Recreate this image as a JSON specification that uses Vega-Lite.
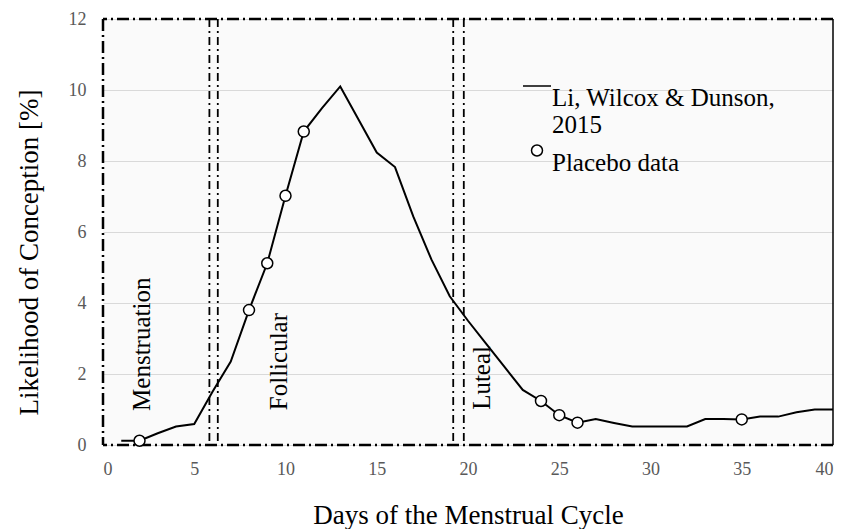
{
  "$schema": "https://vega.github.io/schema/vega-lite/v6.json",
  "width": 730,
  "height": 426,
  "autosize": {"type": "none"},
  "padding": {"left": 103, "top": 19, "right": 11, "bottom": 84},
  "background": "white",
  "config": {
    "view": {"fill": "#fafafa", "stroke": null},
    "font": "Liberation Serif",
    "axis": {"labelFont": "Liberation Serif", "titleFont": "Liberation Serif"},
    "text": {"font": "Liberation Serif"},
    "legend": {
      "orient": "none",
      "legendX": 419,
      "legendY": 52,
      "padding": 0,
      "title": null,
      "labelFont": "Liberation Serif",
      "labelFontSize": 25,
      "labelColor": "black",
      "labelLimit": 400,
      "labelOffset": 0,
      "labelBaseline": "top",
      "rowPadding": 0
    }
  },
  "datasets": {
    "curve": [
      {"day": 1, "value": 0.12}, {"day": 2, "value": 0.12}, {"day": 3, "value": 0.33},
      {"day": 4, "value": 0.52}, {"day": 5, "value": 0.59}, {"day": 6, "value": 1.5},
      {"day": 7, "value": 2.35}, {"day": 8, "value": 3.8}, {"day": 9, "value": 5.12},
      {"day": 10, "value": 7.02}, {"day": 11, "value": 8.83}, {"day": 12, "value": 9.49},
      {"day": 13, "value": 10.1}, {"day": 14, "value": 9.17}, {"day": 15, "value": 8.24},
      {"day": 16, "value": 7.83}, {"day": 17, "value": 6.44}, {"day": 18, "value": 5.22},
      {"day": 19, "value": 4.19}, {"day": 20, "value": 3.5}, {"day": 21, "value": 2.85},
      {"day": 22, "value": 2.2}, {"day": 23, "value": 1.55}, {"day": 24, "value": 1.24},
      {"day": 25, "value": 0.84}, {"day": 26, "value": 0.63}, {"day": 27, "value": 0.73},
      {"day": 28, "value": 0.62}, {"day": 29, "value": 0.52}, {"day": 30, "value": 0.52},
      {"day": 31, "value": 0.52}, {"day": 32, "value": 0.52}, {"day": 33, "value": 0.73},
      {"day": 34, "value": 0.73}, {"day": 35, "value": 0.72}, {"day": 36, "value": 0.8},
      {"day": 37, "value": 0.8}, {"day": 38, "value": 0.92}, {"day": 39, "value": 1.0},
      {"day": 40, "value": 1.0}
    ],
    "placebo": [
      {"day": 2, "value": 0.12, "series": "Placebo data"},
      {"day": 8, "value": 3.8, "series": "Placebo data"},
      {"day": 9, "value": 5.12, "series": "Placebo data"},
      {"day": 10, "value": 7.02, "series": "Placebo data"},
      {"day": 11, "value": 8.83, "series": "Placebo data"},
      {"day": 24, "value": 1.24, "series": "Placebo data"},
      {"day": 25, "value": 0.84, "series": "Placebo data"},
      {"day": 26, "value": 0.63, "series": "Placebo data"},
      {"day": 35, "value": 0.72, "series": "Placebo data"}
    ],
    "phases": [
      {"day": 5.83}, {"day": 6.29}, {"day": 19.19}, {"day": 19.77}
    ],
    "frame": [{"x0": 0, "x1": 40, "y0": 0, "y1": 12}],
    "labels": [
      {"label": "Menstruation", "day": 2.58, "value": 0.96},
      {"label": "Follicular", "day": 10.08, "value": 0.98},
      {"label": "Luteal", "day": 21.23, "value": 0.99}
    ]
  },
  "layer": [
    {
      "data": {"name": "curve"},
      "mark": {"type": "line", "color": "black", "strokeWidth": 2},
      "encoding": {
        "x": {
          "field": "day", "type": "quantitative",
          "scale": {"domain": [0, 40], "nice": false, "zero": false},
          "axis": {
            "values": [0, 5, 10, 15, 20, 25, 30, 35, 40],
            "domain": false, "ticks": false, "grid": false,
            "labelFont": "Liberation Serif", "labelFontSize": 18, "labelColor": "#595959",
            "labelPadding": 15,
            "title": "Days of the Menstrual Cycle",
            "titleFont": "Liberation Serif", "titleFontSize": 27, "titleFontWeight": "normal",
            "titleColor": "black", "titleY": 78, "titleBaseline": "alphabetic"
          }
        },
        "y": {
          "field": "value", "type": "quantitative",
          "scale": {"domain": [0, 12], "nice": false},
          "axis": {
            "values": [0, 2, 4, 6, 8, 10, 12],
            "domain": false, "ticks": false, "grid": true,
            "gridColor": "#d9d9d9", "gridWidth": 1,
            "labelFont": "Liberation Serif", "labelFontSize": 18, "labelColor": "#595959",
            "labelPadding": 17,
            "title": "Likelihood of Conception [%]",
            "titleFont": "Liberation Serif", "titleFontSize": 27, "titleFontWeight": "normal",
            "titleColor": "black", "titleX": -66, "titleY": 233,
            "titleBaseline": "alphabetic", "titleAlign": "center", "titleAngle": -90
          }
        }
      }
    },
    {
      "data": {"name": "phases"},
      "mark": {"type": "rule", "color": "black", "strokeWidth": 1.8, "strokeDash": [8, 4, 2, 4]},
      "encoding": {"x": {"field": "day", "type": "quantitative"}}
    },
    {
      "data": {"name": "frame"},
      "mark": {"type": "rule", "color": "black", "strokeWidth": 2.5, "strokeDash": [12, 4, 2, 4]},
      "encoding": {"x": {"field": "x0", "type": "quantitative"}}
    },
    {
      "data": {"name": "frame"},
      "mark": {"type": "rule", "color": "black", "strokeWidth": 2.5, "strokeDash": [12, 4, 2, 4]},
      "encoding": {"y": {"field": "y1", "type": "quantitative"}}
    },
    {
      "data": {"name": "frame"},
      "mark": {"type": "rule", "color": "black", "strokeWidth": 2.5, "strokeDash": [12, 4, 2, 4]},
      "encoding": {"y": {"field": "y0", "type": "quantitative"}}
    },
    {
      "data": {"name": "frame"},
      "mark": {"type": "rule", "color": "black", "strokeWidth": 1.5},
      "encoding": {"x": {"field": "x1", "type": "quantitative"}}
    },
    {
      "data": {"name": "placebo"},
      "mark": {"type": "point", "filled": false, "fill": "white", "stroke": "black", "strokeWidth": 1.5, "opacity": 1, "fillOpacity": 1},
      "encoding": {
        "x": {"field": "day", "type": "quantitative"},
        "y": {"field": "value", "type": "quantitative"},
        "shape": {
          "field": "series", "type": "nominal",
          "scale": {"domain": ["Li, Wilcox & Dunson, 2015", "Placebo data"], "range": ["stroke", "circle"]},
          "legend": {
            "labelExpr": "datum.label == 'Li, Wilcox & Dunson, 2015' ? ['Li, Wilcox & Dunson,', '2015'] : datum.label"
          }
        },
        "size": {
          "field": "series", "type": "nominal",
          "scale": {"domain": ["Li, Wilcox & Dunson, 2015", "Placebo data"], "range": [784, 121]},
          "legend": {
            "labelExpr": "datum.label == 'Li, Wilcox & Dunson, 2015' ? ['Li, Wilcox & Dunson,', '2015'] : datum.label"
          }
        }
      }
    },
    {
      "data": {"name": "labels"},
      "mark": {"type": "text", "angle": 270, "align": "left", "baseline": "alphabetic", "font": "Liberation Serif", "fontSize": 25, "color": "black"},
      "encoding": {
        "x": {"field": "day", "type": "quantitative"},
        "y": {"field": "value", "type": "quantitative"},
        "text": {"field": "label"}
      }
    }
  ]
}
